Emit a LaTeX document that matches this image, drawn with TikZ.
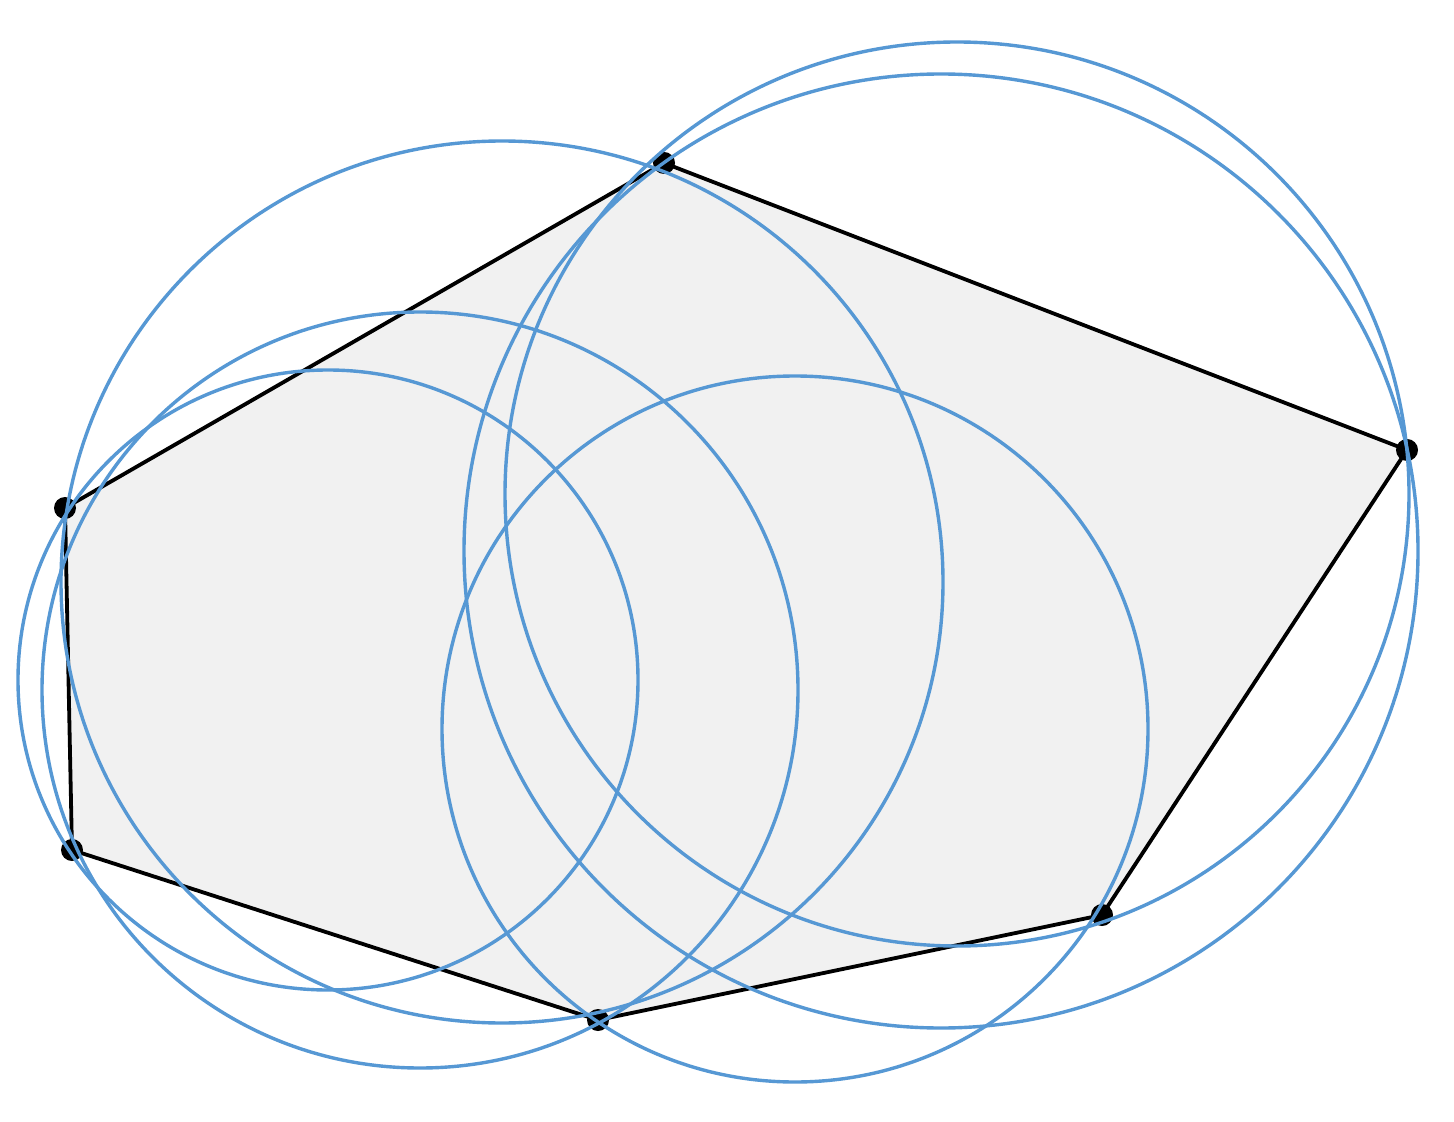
\documentclass[tikz,border=0pt]{standalone}
\usepackage{tikz}
\definecolor{circblue}{RGB}{86,152,212}
\definecolor{polyfill}{RGB}{241,241,241}
\tikzset{
  circ/.style={draw=circblue, line width=1.7pt},
  edge/.style={draw=black, line width=1.9pt, line join=round},
  vdot/.style={circle, fill=black, inner sep=0pt, minimum size=11pt}
}
\begin{document}
\begin{tikzpicture}[x={(0.5pt,0)}, y={(0,-0.5pt)}]
\useasboundingbox (0,0) rectangle (1454,1122);
\fill[white] (0,0) rectangle (1454,1122);
% vertices
\coordinate (A) at (664,163);
\coordinate (B) at (1407,450);
\coordinate (C) at (1102,915);
\coordinate (D) at (598,1020);
\coordinate (E) at (72,850);
\coordinate (F) at (65,508);
% polygon
\path[fill=polyfill] (A) -- (B) -- (C) -- (D) -- (E) -- (F) -- cycle;
\draw[edge] (A) -- (B) -- (C) -- (D) -- (E) -- (F) -- cycle;
% vertex dots
\foreach \v in {A,B,C,D,E,F} \node[vdot] (n\v) at (\v) {};
% circle centres
\coordinate (o1) at (957,494);
\coordinate (o2) at (941,551);
\coordinate (o3) at (502,582);
\coordinate (o4) at (420,690);
\coordinate (o5) at (328,680);
\coordinate (o6) at (795,729);
% circles
\draw[circ] (o1) circle[radius=0.5*452pt];
\draw[circ] (o2) circle[radius=0.5*477pt];
\draw[circ] (o3) circle[radius=0.5*441pt];
\draw[circ] (o4) circle[radius=0.5*378pt];
\draw[circ] (o5) circle[radius=0.5*310pt];
\draw[circ] (o6) circle[radius=0.5*353pt];
\end{tikzpicture}
\end{document}
